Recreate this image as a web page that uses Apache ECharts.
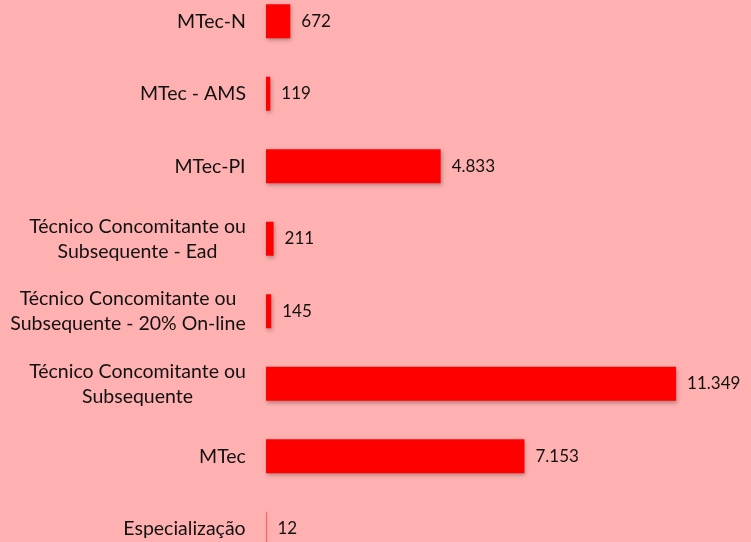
<!DOCTYPE html>
<html><head><meta charset="utf-8">
<script src="https://cdn.jsdelivr.net/npm/echarts@6/dist/echarts.min.js"></script>
<style>html,body{margin:0;padding:0;background:#FFB1B1;}#c{width:751px;height:542px;}</style>
</head><body><div id="c"></div>
<script>
const categories = [
  "MTec-N",
  "MTec - AMS",
  "MTec-PI",
  "Técnico Concomitante ou\nSubsequente - Ead",
  "Técnico Concomitante ou\nSubsequente - 20% On-line",
  "Técnico Concomitante ou\nSubsequente",
  "MTec",
  "Especialização"
];
const values = [672, 119, 4833, 211, 145, 11349, 7153, 12];

const FONT = 'Lato';
const CAT_SIZE = 19.5;
const VAL_SIZE = 17;

const cv = document.createElement('canvas').getContext('2d');
cv.font = CAT_SIZE + 'px ' + FONT;
const rich = {};
categories.forEach((c, i) => {
  const w = Math.max(...c.split('\n').map(l => cv.measureText(l).width));
  rich['w' + i] = {width: Math.ceil(w), align: 'center', fontFamily: FONT, fontSize: CAT_SIZE, lineHeight: 25, color: '#111111'};
});

function fmt(n) { return String(n).replace(/\B(?=(\d{3})+(?!\d))/g, '.'); }

const chart = echarts.init(document.getElementById('c'));
chart.setOption({
  backgroundColor: '#FFB1B1',
  animation: false,
  grid: {left: 266, top: -15, height: 580, width: 433.6, containLabel: false, outerBoundsMode: 'none'},
  xAxis: {type: 'value', min: 0, max: 12000, show: false},
  yAxis: {
    type: 'category', inverse: true, data: categories,
    axisLine: {show: false}, axisTick: {show: false}, splitLine: {show: false},
    axisLabel: {
      margin: 20,
      formatter: function (v, idx) {
        return v.split('\n').map(l => '{w' + idx + '|' + l + '}').join('\n');
      },
      rich: rich
    }
  },
  series: [{
    type: 'bar', data: values, barWidth: 34,
    itemStyle: {color: '#FF0000', shadowColor: 'rgba(0,0,0,0.3)', shadowBlur: 4, shadowOffsetX: 1, shadowOffsetY: 2},
    label: {show: true, position: 'right', distance: 11, fontFamily: FONT, fontSize: VAL_SIZE, color: '#111111',
      formatter: p => fmt(p.value)}
  }]
});
</script></body></html>
